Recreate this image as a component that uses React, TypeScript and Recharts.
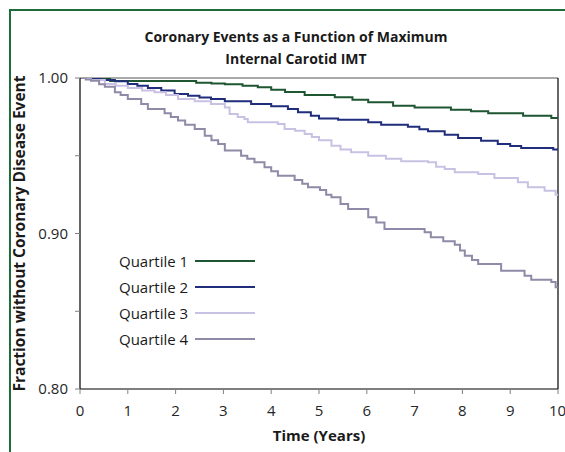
import React from 'react';
import { LineChart, Line, XAxis, YAxis, ReferenceLine, Legend } from 'recharts';

const xTicks = [0, 1, 2, 3, 4, 5, 6, 7, 8, 9, 10];
const yTicks = [0.8, 0.85, 0.9, 0.95, 1.0];
const yLabels: Record<string, string> = { '0.8': '0.80', '0.9': '0.90', '1': '1.00' };

const q1Time = [0, 0.63, 2.43, 2.75, 3.03, 3.4, 3.72, 4.0, 4.29, 4.7, 5.33, 5.7, 6.03, 6.55, 7.0, 7.76, 8.18, 8.54, 9.27, 9.86, 10];
const q1Surv = [1.0, 0.998, 0.997, 0.9965, 0.996, 0.995, 0.994, 0.9925, 0.991, 0.989, 0.9876, 0.986, 0.9844, 0.9822, 0.981, 0.9796, 0.9786, 0.9773, 0.9758, 0.9743, 0.9743];

const q2Time = [0, 0.44, 0.73, 1.0, 1.2, 1.42, 1.7, 1.98, 2.26, 2.5, 2.74, 3.03, 3.58, 4.0, 4.35, 4.56, 4.83, 5.0, 5.4, 6.03, 6.3, 6.86, 7.1, 7.28, 7.63, 7.91, 8.39, 8.74, 9.0, 9.23, 9.9, 10];
const q2Surv = [1.0, 0.9987, 0.9979, 0.9961, 0.995, 0.9936, 0.992, 0.9897, 0.9886, 0.9875, 0.9865, 0.985, 0.9833, 0.9818, 0.98, 0.9779, 0.9758, 0.974, 0.9732, 0.9715, 0.97, 0.9687, 0.967, 0.9657, 0.9635, 0.9614, 0.9597, 0.9576, 0.9562, 0.955, 0.9541, 0.9541];

const q3Time = [0, 0.23, 0.52, 0.75, 1.0, 1.3, 1.56, 1.8, 2.05, 2.4, 2.74, 3.03, 3.13, 3.3, 3.44, 3.51, 4.14, 4.28, 4.5, 4.7, 4.85, 5.0, 5.26, 5.45, 5.67, 6.03, 6.4, 6.72, 7.28, 7.45, 7.63, 7.84, 8.33, 8.67, 9.16, 9.37, 9.72, 9.95, 10];
const q3Surv = [1.0, 0.9987, 0.9961, 0.995, 0.9936, 0.992, 0.9908, 0.989, 0.9865, 0.985, 0.9833, 0.9811, 0.9768, 0.975, 0.9736, 0.9715, 0.9704, 0.9672, 0.966, 0.964, 0.962, 0.96, 0.9565, 0.954, 0.9522, 0.95, 0.948, 0.9464, 0.9458, 0.943, 0.9415, 0.9394, 0.9383, 0.9357, 0.933, 0.9297, 0.9275, 0.925, 0.925];

const q4Time = [0, 0.12, 0.23, 0.4, 0.52, 0.73, 0.85, 1.0, 1.28, 1.42, 1.77, 1.9, 2.05, 2.2, 2.4, 2.61, 2.75, 2.89, 3.03, 3.37, 3.5, 3.65, 3.86, 4.0, 4.14, 4.49, 4.65, 4.77, 5.02, 5.15, 5.26, 5.45, 5.61, 6.03, 6.2, 6.37, 7.21, 7.34, 7.6, 7.84, 7.95, 8.05, 8.2, 8.33, 8.81, 9.3, 9.44, 9.86, 9.95, 10];
const q4Surv = [1.0, 0.999, 0.9983, 0.996, 0.9944, 0.9908, 0.989, 0.9865, 0.9833, 0.98, 0.9773, 0.975, 0.9726, 0.97, 0.9672, 0.9629, 0.96, 0.9576, 0.9533, 0.95, 0.948, 0.9458, 0.9426, 0.94, 0.9372, 0.9344, 0.932, 0.9297, 0.928, 0.925, 0.9233, 0.919, 0.9158, 0.9104, 0.907, 0.9029, 0.9008, 0.8976, 0.895, 0.8928, 0.889, 0.8857, 0.883, 0.8804, 0.8761, 0.8729, 0.8703, 0.8688, 0.8654, 0.8654];

const seriesNames = ['Quartile 1', 'Quartile 2', 'Quartile 3', 'Quartile 4'];
const seriesColors = ['#1e5631', '#1f2d7b', '#c9c1e3', '#8f8aa8'];

const build = (t: number[], v: number[]) => t.map((x, i) => ({ t: x, v: v[i] }));
const seriesData = [build(q1Time, q1Surv), build(q2Time, q2Surv), build(q3Time, q3Surv), build(q4Time, q4Surv)];

const FONT = '"Open Sans", sans-serif';

const renderLegend = (props: any) => {
  const payload = props.payload || [];
  return (
    <div style={{ fontFamily: FONT, fontSize: 15, color: '#1a1a1a' }}>
      {payload.map((p: any, i: number) => (
        <div key={i} style={{ display: 'flex', alignItems: 'center', height: 26, whiteSpace: 'nowrap' }}>
          <span>{p.value}</span>
          <span style={{ display: 'inline-block', width: 60, height: 2, background: p.color, marginLeft: 7 }} />
        </div>
      ))}
    </div>
  );
};

export default function App() {
  return (
    <div style={{ position: 'absolute', left: 0, top: 0, width: 565, height: 452, overflow: 'hidden', background: '#fff' }}>
      <div style={{ position: 'absolute', left: 9, top: 9, width: 600, height: 500, borderLeft: '2px solid #1e6b3c', borderTop: '2px solid #1e6b3c' }} />
      <div style={{ position: 'absolute', left: 0, top: 26, width: 592, textAlign: 'center', fontFamily: FONT, fontWeight: 700, fontSize: 14, lineHeight: '22px', color: '#1a1a1a' }}>
        <div>Coronary Events as a Function of Maximum</div>
        <div>Internal Carotid IMT</div>
      </div>
      <div style={{ position: 'absolute', left: 0, top: 0 }}>
        <LineChart width={565} height={452} margin={{ top: 78, right: 7, bottom: 8, left: 10 }}>
          <XAxis
            type="number"
            dataKey="t"
            domain={[0, 10]}
            ticks={xTicks}
            allowDataOverflow
            height={55}
            tickSize={5}
            tickMargin={11}
            axisLine={{ stroke: '#000', strokeWidth: 1.2 }}
            tickLine={{ stroke: '#808080' }}
            tick={{ fontFamily: FONT, fontSize: 15, fill: '#262626' }}
            label={{ value: 'Time (Years)', position: 'insideBottom', offset: 3, style: { fontFamily: FONT, fontWeight: 700, fontSize: 15, fill: '#1a1a1a' } }}
          />
          <YAxis
            type="number"
            domain={[0.8, 1.0]}
            ticks={yTicks}
            allowDataOverflow
            width={70}
            tickSize={5}
            tickMargin={7}
            tickFormatter={(v: number) => yLabels[String(Number(v.toFixed(2)))] || ''}
            axisLine={{ stroke: '#000', strokeWidth: 1.2 }}
            tickLine={{ stroke: '#808080' }}
            tick={{ fontFamily: FONT, fontSize: 15, fill: '#262626' }}
            label={{ value: 'Fraction without Coronary Disease Event', angle: -90, position: 'insideLeft', offset: 9, style: { textAnchor: 'middle', fontFamily: FONT, fontWeight: 700, fontSize: 15.5, fill: '#1a1a1a' } }}
          />
          <ReferenceLine y={1} stroke="#8c8c8c" strokeWidth={1.5} />
          <ReferenceLine x={10} stroke="#000" strokeWidth={1.2} />
          {seriesData.map((d, i) => (
            <Line
              key={seriesNames[i]}
              data={d}
              dataKey="v"
              name={seriesNames[i]}
              type="stepAfter"
              stroke={seriesColors[i]}
              strokeWidth={2}
              dot={false}
              activeDot={false}
              isAnimationActive={false}
            />
          ))}
          <Legend
            layout="vertical"
            align="center"
            verticalAlign="middle"
            content={renderLegend}
            wrapperStyle={{ position: 'absolute', left: 119, top: 248, width: 'auto', height: 'auto' }}
          />
        </LineChart>
      </div>
    </div>
  );
}
